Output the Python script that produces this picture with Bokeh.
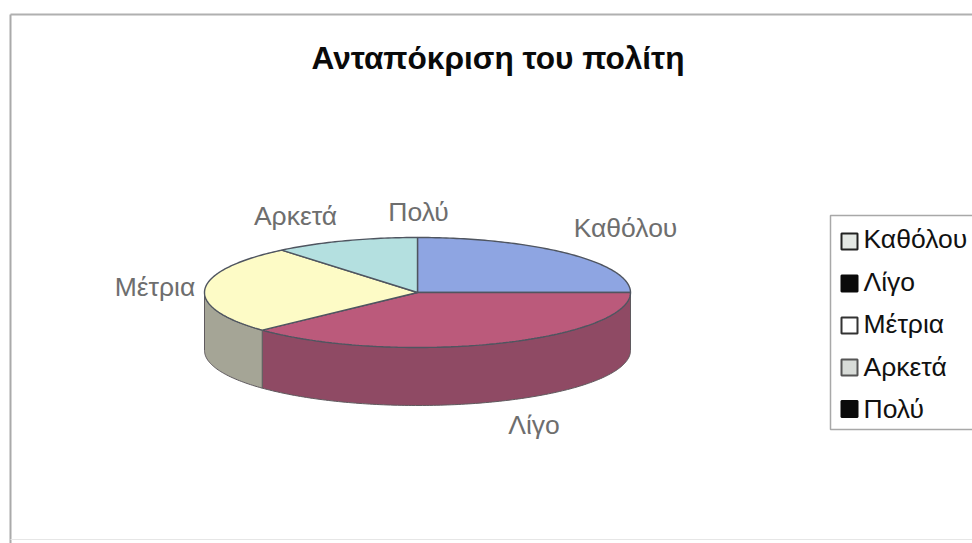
import numpy as np
from bokeh.embed import file_html
from bokeh.models import Range1d
from bokeh.plotting import figure
from bokeh.resources import INLINE
from bokeh.core.properties import value

TITLE = "Ανταπόκριση του πολίτη"
categories = ["Καθόλου", "Λίγο", "Μέτρια", "Αρκετά", "Πολύ"]
responses = [25, 38, 26, 11, 0]
top_colors = ["#8ea5e2", "#bb5a7b", "#fdfbc6", "#b4e0e0", "#222222"]
wall_colors = ["#6f7fae", "#8f4a64", "#a5a596", "#8aa8a8", "#222222"]
swatch_fills = ["#e4e8e4", "#0a0a0a", "#ffffff", "#d8dcd8", "#0a0a0a"]
swatch_lines = ["#222222", "#0a0a0a", "#333333", "#555555", "#0a0a0a"]

# Pie geometry, in pixels of the page
CX, CY, RX, RY, DEPTH = 417, 292, 213, 55, 58
LABEL_FONT = value("Liberation Sans")


def rim(a0, a1, drop=0.0):
    """Points on the ellipse, angles clockwise from the top in radians."""
    n = max(2, int(abs(a1 - a0) * 60))
    t = np.linspace(a0, a1, n)
    return CX + RX * np.sin(t), CY - RY * np.cos(t) + drop


p = figure(width=972, height=543, output_backend="svg", toolbar_location=None,
           x_range=Range1d(0, 972), y_range=Range1d(543, 0), min_border=0,
           background_fill_color="white", border_fill_color="white")
p.axis.visible = False
p.grid.visible = False
p.outline_line_color = None

# Chart frame, open at the right-hand side of the page
p.line([10, 10], [14, 543], line_color="#aaaaaa", line_width=2)
p.line([10, 972], [14, 14], line_color="#b0b0b0", line_width=2)
p.line([10, 972], [539, 539], line_color="#e6e6e6", line_width=1)

p.text([497.5], [57], text=[TITLE], text_font=LABEL_FONT, text_font_style="bold",
       text_font_size="31.6px", text_align="center", text_baseline="middle",
       text_color="#0a0a0a")

shares = np.array(responses, dtype=float) / sum(responses)
edges = np.concatenate([[0], np.cumsum(shares)]) * 2 * np.pi

# Side walls only exist on the front half of the disc
for i in range(len(categories)):
    a0, a1 = max(edges[i], np.pi / 2), min(edges[i + 1], 3 * np.pi / 2)
    if a1 <= a0:
        continue
    xs, ys = rim(a0, a1)
    xb, yb = rim(a0, a1, DEPTH)
    p.patch(np.concatenate([xs, xb[::-1]]), np.concatenate([ys, yb[::-1]]),
            fill_color=wall_colors[i], line_color="#5f5a5e", line_width=1)

# Top faces
for i in range(len(categories)):
    if shares[i] == 0:
        continue
    xs, ys = rim(edges[i], edges[i + 1])
    p.patch(np.concatenate([[CX], xs]), np.concatenate([[CY], ys]),
            fill_color=top_colors[i], line_color="#4f5560", line_width=1.4)

# Slice labels
label_x = [625, 533.5, 154.5, 295, 418]
label_y = [227, 424, 286, 215, 211]
p.text(label_x, label_y, text=categories, text_font=LABEL_FONT, text_font_size="26.5px",
       text_align="center", text_baseline="middle", text_color="#6e6e6e")

# Legend
p.quad(left=[830], right=[975], top=[215], bottom=[429], fill_color="white",
       line_color="#a8a8a8", line_width=1.5)
legend_y = [238, 281, 323, 366, 408]
swatch_y = [241, 283, 325, 367, 408.5]
p.quad(left=[841] * 5, right=[857] * 5,
       top=[y - 8 for y in swatch_y], bottom=[y + 8 for y in swatch_y],
       fill_color=swatch_fills, line_color=swatch_lines, line_width=2)
p.text([863] * 5, legend_y, text=categories, text_font=LABEL_FONT, text_font_size="26.5px",
       text_align="left", text_baseline="middle", text_color="#111111")

open("out.html", "w").write(file_html(p, INLINE))
